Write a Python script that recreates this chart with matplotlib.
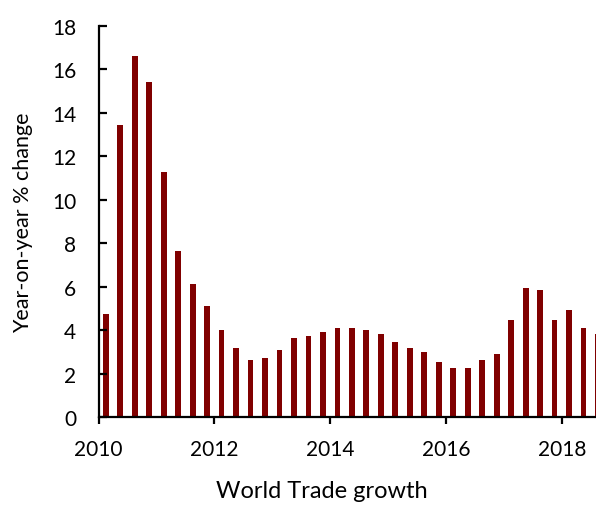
import matplotlib
matplotlib.use("Agg")
import matplotlib.pyplot as plt
import numpy as np

# quarterly world trade growth, 2010 Q1 .. 2018 Q3
quarters = np.arange(2010, 2018.75, 0.25) + 0.125
growth = [4.74, 13.42, 16.63, 15.43, 11.30, 7.62, 6.13, 5.11, 4.01, 3.18, 2.62, 2.72,
          3.08, 3.63, 3.73, 3.91, 4.10, 4.10, 4.00, 3.82, 3.45, 3.17, 2.99, 2.53,
          2.25, 2.25, 2.62, 2.90, 4.47, 5.94, 5.85, 4.47, 4.93, 4.10, 3.80]
year_ticks = [2010, 2012, 2014, 2016, 2018]
y_ticks = [0, 2, 4, 6, 8, 10, 12, 14, 16, 18]

plt.rcParams['font.family'] = ['Lato', 'DejaVu Sans']

fig = plt.figure(figsize=(5.96, 5.06), dpi=100)
ax = fig.add_axes([98.5 / 596, 88 / 506, 1 - 98.5 / 596, 391 / 506])

ax.bar(quarters, growth, width=0.1, color='#800000')

ax.set_xlim(2010, 2018.59)
ax.set_ylim(0, 18)
ax.set_xticks(year_ticks)
ax.set_yticks(y_ticks)

for s in ['top', 'right']:
	ax.spines[s].set_visible(False)
for s in ['left', 'bottom']:
	ax.spines[s].set_linewidth(1.6)

ax.tick_params(axis='y', direction='in', length=6, width=1.6, pad=16, labelsize=15)
ax.tick_params(axis='x', direction='out', length=5, width=1.6, pad=11, labelsize=15)

ax.set_ylabel('Year-on-year % change', fontsize=15.5, labelpad=14)
fig.text(322 / 596, 1 - 492 / 506, 'World Trade growth', ha='center', va='center', fontsize=17)

fig.savefig('out.png', dpi=100)
